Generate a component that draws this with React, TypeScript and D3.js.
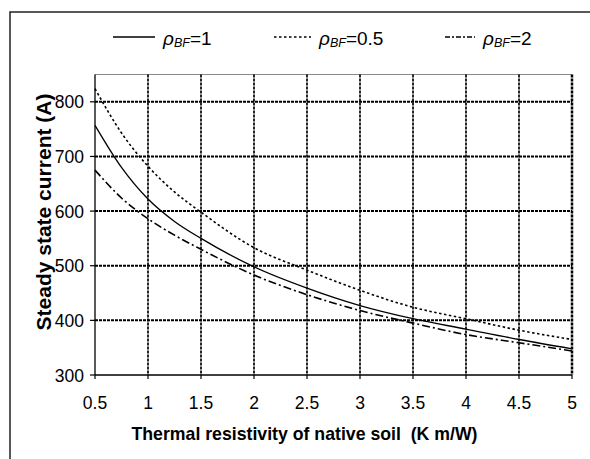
import React from "react";
import * as d3 from "d3";

const rho = [0.5, 0.75, 1, 1.25, 1.5, 2, 2.5, 3, 3.5, 4, 4.5, 5];
const seriesRho1 = [757, 680, 622, 581, 550, 498, 459, 427, 403, 384, 365, 348];
const seriesRho05 = [824, 743, 682, 635, 598, 533, 492, 455, 424, 403, 382, 365];
const seriesRho2 = [675, 624, 586, 556, 530, 483, 447, 418, 395, 374, 359, 344];
const xTicks = [0.5, 1, 1.5, 2, 2.5, 3, 3.5, 4, 4.5, 5];
const yTicks = [300, 400, 500, 600, 700, 800];
const legendLabels = ["1", "0.5", "2"];

const W = 590, H = 459;
const L = 95, R = 572, T = 74.5, B = 375;
const FONT = "'Liberation Sans', Arial, sans-serif";

export default function App() {
  const x = d3.scaleLinear().domain([0.5, 5]).range([L, R]);
  const y = d3.scaleLinear().domain([300, 850]).range([B, T]);
  const line = (vals: number[]) =>
    d3.line<number>().x((_, i) => x(rho[i])).y((v) => y(v)).curve(d3.curveMonotoneX)(vals) || "";

  const styles = [
    { dash: undefined as string | undefined, w: 1.3 },
    { dash: "2.5,2.5", w: 1.6 },
    { dash: "8,3,2,3", w: 1.6 },
  ];
  const series = [seriesRho1, seriesRho05, seriesRho2];
  const legendX = [113, 274, 445];
  const legendLen = [42, 37, 30];

  return (
    <svg width={W} height={H} style={{ position: "absolute", left: 0, top: 0, background: "#fff" }} fontFamily={FONT}>
      <rect x={0} y={0} width={W} height={H} fill="#fff" />
      <rect x={10} y={12} width={590} height={460} fill="none" stroke="#222" strokeWidth={1.5} />

      {/* legend */}
      {legendLabels.map((lab, i) => (
        <g key={lab}>
          <line x1={legendX[i]} x2={legendX[i] + legendLen[i]} y1={37} y2={37} stroke="#000"
            strokeWidth={styles[i].w} strokeDasharray={i === 2 ? "5,2,2,2" : styles[i].dash} />
          <text x={legendX[i] + legendLen[i] + 8} y={45} fontSize={19} fill="#000">
            <tspan fontStyle="italic">ρ</tspan>
            <tspan fontStyle="italic" fontSize={12.5} dy={2}>BF</tspan>
            <tspan dy={-2}>={lab}</tspan>
          </text>
        </g>
      ))}

      {/* plot top border */}
      <line x1={L} x2={R} y1={T} y2={T} stroke="#888" strokeWidth={1} />

      {/* grid */}
      {yTicks.filter((v) => v > 300).map((v) => (
        <line key={"gy" + v} x1={L} x2={R} y1={y(v)} y2={y(v)} stroke="#000" strokeWidth={2} strokeDasharray="3,1" />
      ))}
      {xTicks.filter((v) => v > 0.5).map((v) => (
        <line key={"gx" + v} x1={x(v)} x2={x(v)} y1={T} y2={B} stroke="#000" strokeWidth={v === 5 ? 2.5 : 1.7} strokeDasharray="3,1" />
      ))}

      {/* axes */}
      <line x1={L} x2={L} y1={T} y2={B} stroke="#000" strokeWidth={1.3} />
      <line x1={L} x2={R} y1={B} y2={B} stroke="#000" strokeWidth={1.5} />
      {yTicks.map((v) => (
        <g key={"ty" + v}>
          <line x1={L - 5} x2={L} y1={y(v)} y2={y(v)} stroke="#000" strokeWidth={1.2} />
          <text x={L - 11} y={y(v) + 6.5} fontSize={17.5} textAnchor="end" fill="#000">{v}</text>
        </g>
      ))}
      {xTicks.map((v) => (
        <g key={"tx" + v}>
          <line x1={x(v)} x2={x(v)} y1={B} y2={B + 4} stroke="#000" strokeWidth={1.2} />
          <text x={x(v)} y={B + 34} fontSize={17.5} textAnchor="middle" fill="#000">{v}</text>
        </g>
      ))}

      {/* series */}
      {series.map((s, i) => (
        <path key={"s" + i} d={line(s)} fill="none" stroke="#000" strokeWidth={styles[i].w} strokeDasharray={styles[i].dash} />
      ))}

      {/* axis titles */}
      <text x={304.5} y={440} fontSize={17.7} fontWeight="bold" textAnchor="middle" fill="#000" style={{ whiteSpace: "pre" }}>
        {"Thermal resistivity of native soil  (K m/W)"}
      </text>
      <text transform={`translate(51, 212) rotate(-90)`} fontSize={21} fontWeight="bold" textAnchor="middle" fill="#000">
        Steady state current (A)
      </text>
    </svg>
  );
}
